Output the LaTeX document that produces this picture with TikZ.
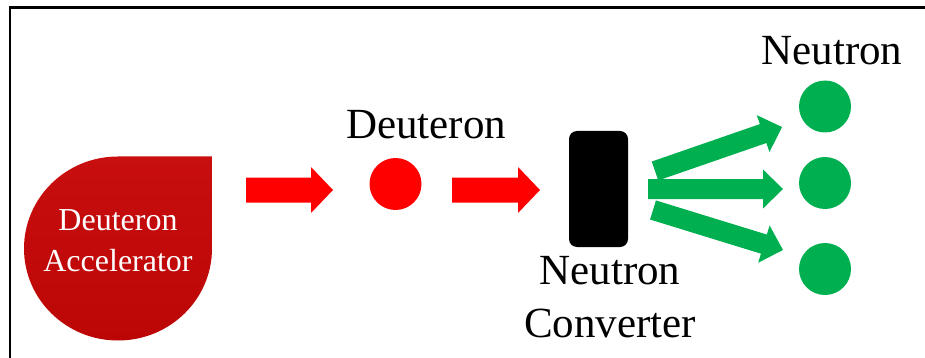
\documentclass[tikz,border=0pt]{standalone}
\usepackage{fontspec}
\setmainfont{Liberation Serif}
\definecolor{accred}{RGB}{188,6,6}
\definecolor{acctop}{RGB}{200,14,14}
\definecolor{arrred}{RGB}{255,0,0}
\definecolor{ngreen}{RGB}{0,176,80}
\begin{document}
\begin{tikzpicture}[x=1pt,y=1pt,
  lbl/.style={font=\fontsize{43}{53}\selectfont, inner sep=0pt, align=center},
  acc/.style={font=\fontsize{32}{41}\selectfont, text=white, inner sep=0pt, align=center},
  ball/.style={circle, inner sep=0pt, minimum size=52pt},
  convbox/.style={fill=black, rounded corners=8pt, inner sep=0pt, minimum width=59pt, minimum height=116pt},
  pics/blockarrow/.style n args={4}{code={
     \fill (0,-#2) -- (#1-#4,-#2) -- (#1-#4,-#3) -- (#1,0) -- (#1-#4,#3) -- (#1-#4,#2) -- (0,#2) -- cycle;}},
]
\useasboundingbox (0,0) rectangle (925,-358);
% frame
\draw[line width=2.2pt] (925,-7.5) -- (10,-7.5) -- (10,-358);
% accelerator teardrop
\shade[top color=acctop, bottom color=accred] (212,-156.5) -- (212,-248.5)
  arc[start angle=0, end angle=-270, x radius=94, y radius=92] -- cycle;
\node[acc] (accel) at (118,-240.5) {Deuteron\\Accelerator};
% deuteron
\node[ball, fill=arrred] (deut) at (395.5,-184) {};
\node[lbl, anchor=base] (deutlbl) at (426,-139) {Deuteron};
% red arrows
\pic[color=arrred] at (246,-190) {blockarrow={87}{12.5}{23}{22}};
\pic[color=arrred] at (452,-190) {blockarrow={88}{12.5}{23}{22}};
% converter
\node[convbox] (conv) at (598.5,-189) {};
\node[lbl] (convlbl) at (610,-297) {Neutron\\Converter};
% neutrons
\node[ball, fill=ngreen] (n1) at (825,-106.5) {};
\node[ball, fill=ngreen] (n2) at (825,-183) {};
\node[ball, fill=ngreen] (n3) at (825,-269) {};
\node[lbl, anchor=base] (nlbl) at (832,-65) {Neutron};
% green arrows
\pic[color=ngreen, rotate=19.1] at (655,-171) {blockarrow={134.4}{10}{19.5}{20}};
\pic[color=ngreen] at (648,-189) {blockarrow={135}{10}{19.5}{20}};
\pic[color=ngreen, rotate=-17.1] at (653,-210) {blockarrow={136}{10}{19.5}{20}};
\end{tikzpicture}
\end{document}
